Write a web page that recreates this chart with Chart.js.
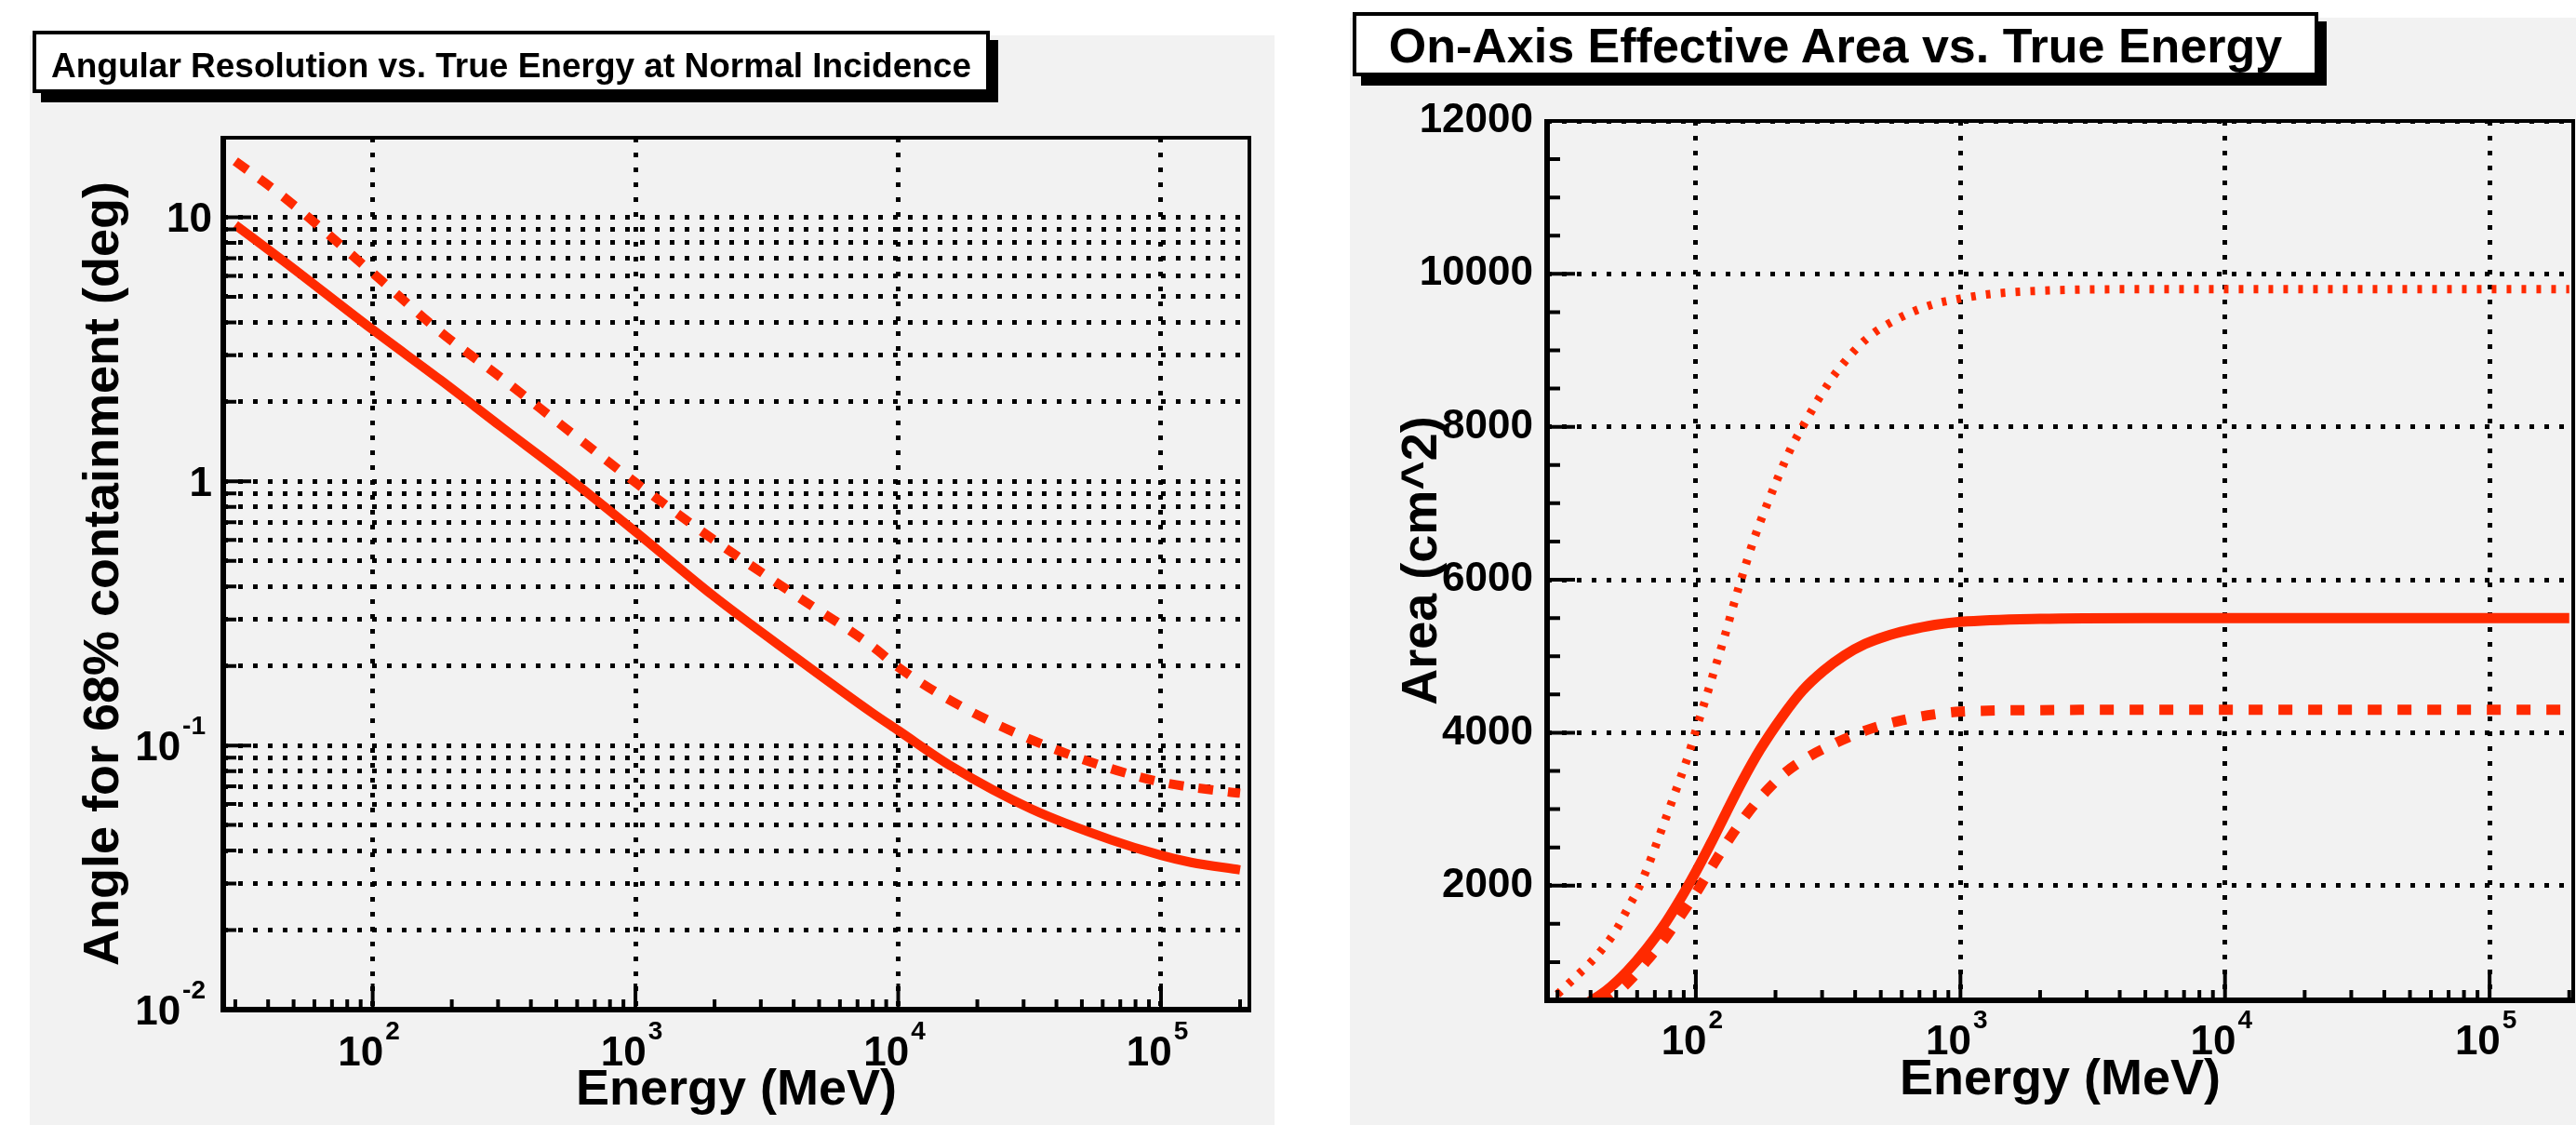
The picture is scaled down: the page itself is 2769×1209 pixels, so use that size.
<!DOCTYPE html>
<html lang="en">
<head>
  <meta charset="UTF-8">
  <title>Angular Resolution and Effective Area vs. True Energy</title>
  <style>
    html, body { margin: 0; padding: 0; background: #fff; overflow: hidden; }
    body { width: 2769px; height: 1209px; position: relative; font-family: "Liberation Sans", Arial, sans-serif; }
    .panel { position: absolute; background: #f2f2f2; }
    .panel canvas { display: block; }
    .titlebox {
      position: absolute; box-sizing: border-box; background: #fff;
      border: 4px solid #000; box-shadow: 9px 10px 0 #000;
      font-weight: bold; color: #000; text-align: center; white-space: nowrap;
    }
  </style>
</head>
<body>
  <div class="panel" style="left:32px;top:38px;width:1338px;height:1171px">
    <canvas id="angChart" width="1338" height="1171"></canvas>
  </div>
  <div class="panel" style="left:1451px;top:19px;width:1318px;height:1190px">
    <canvas id="areaChart" width="1318" height="1190"></canvas>
  </div>
  <div class="titlebox" style="left:35px;top:33px;width:1029px;height:67px;font-size:37px;line-height:59px;padding-top:4px">Angular Resolution vs. True Energy at Normal Incidence</div>
  <div class="titlebox" style="left:1454px;top:13px;width:1038px;height:69px;font-size:52px;line-height:61px;padding-top:2px">On-Axis Effective Area vs. True Energy</div>

  <script src="https://cdn.jsdelivr.net/npm/chart.js"></script>
  <script>
    // angular resolution (deg), solid and dashed curves
    const angSolidE = [30, 46, 100, 181, 311, 537, 1000, 1970, 3960, 7950, 10000, 16000, 32200, 64600, 100000, 130000, 200000];
    const angSolid  = [9.35, 6.8, 3.75, 2.42, 1.6, 1.06, 0.645, 0.37, 0.22, 0.133, 0.114, 0.0832, 0.0574, 0.0439, 0.0384, 0.0361, 0.0338];
    const angDashE  = [30, 46, 100, 181, 311, 537, 1000, 1970, 3960, 7950, 10000, 16000, 32200, 64600, 100000, 178000, 200000];
    const angDash   = [16.3, 11.9, 6.15, 3.68, 2.45, 1.6, 0.99, 0.604, 0.377, 0.238, 0.198, 0.147, 0.105, 0.0817, 0.0727, 0.0668, 0.066];

    // effective area (cm^2), solid, dashed and dotted curves
    const areaSolidE = [38, 46, 55, 65, 77, 90, 100, 115, 130, 150, 175, 211, 253, 304, 364, 436, 523, 627, 802, 1000, 2000, 5000, 10000, 100000, 200000];
    const areaSolid  = [440, 630, 880, 1170, 1520, 1900, 2180, 2580, 2950, 3370, 3780, 4200, 4550, 4810, 5010, 5160, 5262, 5335, 5410, 5450, 5490, 5500, 5500, 5500, 5500];
    const areaDashE  = [44, 50, 57, 65, 75, 87, 100, 115, 135, 158, 185, 220, 265, 340, 440, 580, 800, 1000, 2000, 5000, 10000, 100000, 200000];
    const areaDash   = [440, 590, 780, 1010, 1270, 1590, 1900, 2250, 2630, 2960, 3240, 3490, 3680, 3870, 4030, 4150, 4240, 4275, 4295, 4300, 4300, 4300, 4300];
    const areaDotE   = [30, 35, 40, 45, 50, 55, 61, 66, 73, 83, 94, 100, 110, 119, 127, 137, 147, 167, 183, 204, 227, 253, 293, 339, 442, 596, 780, 1000, 1300, 2000, 5000, 10000, 100000, 200000];
    const areaDot    = [580, 800, 996, 1199, 1420, 1687, 1980, 2256, 2663, 3191, 3720, 4030, 4491, 4880, 5200, 5600, 5960, 6560, 6925, 7330, 7696, 8000, 8380, 8710, 9152, 9434, 9596, 9677, 9737, 9780, 9800, 9800, 9800, 9800];

    // axes
    const energyTicks = [100, 1000, 10000, 100000];
    const energyTickLabels = ['10^2', '10^3', '10^4', '10^5'];
    const angleTicks = [0.01, 0.1, 1, 10];
    const angleTickLabels = ['10^-2', '10^-1', '1', '10'];
    const areaTicks = [2000, 4000, 6000, 8000, 10000, 12000];
    const areaTickLabels = ['2000', '4000', '6000', '8000', '10000', '12000'];

    const RED = '#ff2a00';
    const FONT = '"Liberation Sans", Arial, Helvetica, sans-serif';
    Chart.defaults.font.family = FONT;
    Chart.defaults.color = '#000';

    const pts = (xs, ys) => xs.map((x, i) => ({x: x, y: ys[i]}));

    function logMinors(lo, hi) {
      const out = [];
      for (let e = -3; e <= 6; e++) {
        for (let k = 2; k <= 9; k++) {
          const v = k * Math.pow(10, e);
          if (v > lo && v < hi) out.push(v);
        }
      }
      return out;
    }

    // draws "10" with a raised exponent, like ROOT's log axis labels
    function drawPow(ctx, text, x, base, align) {
      const parts = text.split('^');
      ctx.font = 'bold 44px ' + FONT;
      const wb = ctx.measureText(parts[0]).width;
      let we = 0;
      if (parts[1]) {
        ctx.font = 'bold 28px ' + FONT;
        we = ctx.measureText(parts[1]).width + 2;
      }
      const total = wb + we;
      let x0 = align === 'right' ? x - total : x - total / 2;
      ctx.textAlign = 'left';
      ctx.textBaseline = 'alphabetic';
      ctx.font = 'bold 44px ' + FONT;
      ctx.fillText(parts[0], x0, base);
      if (parts[1]) {
        ctx.font = 'bold 28px ' + FONT;
        ctx.fillText(parts[1], x0 + wb + 2, base - 28);
      }
    }

    // inward ticks, frame and power-of-ten labels
    const rootFrame = {
      id: 'rootFrame',
      afterDatasetsDraw(chart, args, o) {
        const {ctx, chartArea: a} = chart;
        const xs = chart.scales.x, ys = chart.scales.y;
        ctx.save();
        ctx.strokeStyle = '#000';
        ctx.lineCap = 'butt';
        ctx.lineWidth = 4;
        ctx.beginPath();
        o.xMajor.forEach(v => { const p = xs.getPixelForValue(v); ctx.moveTo(p, a.bottom); ctx.lineTo(p, a.bottom - 28); });
        o.xMinor.forEach(v => { const p = xs.getPixelForValue(v); ctx.moveTo(p, a.bottom); ctx.lineTo(p, a.bottom - 11); });
        o.yMajor.forEach(v => { const p = ys.getPixelForValue(v); ctx.moveTo(a.left, p); ctx.lineTo(a.left + 30, p); });
        o.yMinor.forEach(v => { const p = ys.getPixelForValue(v); ctx.moveTo(a.left, p); ctx.lineTo(a.left + 14, p); });
        ctx.stroke();

        ctx.lineWidth = 4;
        ctx.strokeRect(a.left, a.top, a.right - a.left, a.bottom - a.top);
        ctx.lineWidth = 6;
        ctx.beginPath();
        ctx.moveTo(a.left, a.top - 2);
        ctx.lineTo(a.left, a.bottom);
        ctx.lineTo(a.right + 2, a.bottom);
        ctx.stroke();

        ctx.fillStyle = '#000';
        o.xLabels.forEach((t, i) => {
          drawPow(ctx, t, xs.getPixelForValue(o.xLabelValues[i]) - 4, a.bottom + o.xLabelOffset, 'center');
        });
        if (o.yLabels) {
          o.yLabels.forEach((t, i) => {
            const p = ys.getPixelForValue(o.yLabelValues[i]);
            const gap = t.indexOf('^') >= 0 ? 19 : 12;
            drawPow(ctx, t, a.left - gap, p + 16, 'right');
          });
        }
        ctx.restore();
      }
    };

    function axisTitle(text, pad) {
      return { display: true, text: text, color: '#000', padding: pad,
               font: { family: FONT, size: 54, weight: 'bold' } };
    }

    const gridDots = { color: '#000', lineWidth: 5, drawTicks: false, borderDash: [5, 11] };
    const gridBorder = { display: false, dash: [5, 11] };

    // ---- left: angular resolution ----
    const angMinorX = logMinors(27, 217000);
    const angGridY = angleTicks.concat(logMinors(0.01, 20)).sort((p, q) => p - q);

    new Chart(document.getElementById('angChart').getContext('2d'), {
      type: 'line',
      data: {
        datasets: [
          { data: pts(angSolidE, angSolid), borderColor: RED, borderWidth: 10, pointRadius: 0, cubicInterpolationMode: 'monotone', fill: false },
          { data: pts(angDashE, angDash), borderColor: RED, borderWidth: 10, borderDash: [16, 16], borderCapStyle: 'butt', pointRadius: 0, cubicInterpolationMode: 'monotone', fill: false }
        ]
      },
      options: {
        responsive: false,
        devicePixelRatio: 1,
        animation: false,
        layout: { padding: { left: 0, top: 110, right: 27, bottom: 0 } },
        plugins: {
          legend: { display: false },
          tooltip: { enabled: false },
          rootFrame: {
            xMajor: energyTicks, xMinor: angMinorX,
            yMajor: angleTicks, yMinor: logMinors(0.01, 20),
            xLabels: energyTickLabels, xLabelValues: energyTicks, xLabelOffset: 60,
            yLabels: angleTickLabels, yLabelValues: angleTicks
          }
        },
        scales: {
          x: {
            type: 'logarithmic', min: 27, max: 217000,
            afterBuildTicks: s => { s.ticks = energyTicks.map(v => ({value: v})); },
            afterFit: s => { s.height = 124; },
            ticks: { display: false },
            grid: gridDots,
            border: gridBorder,
            title: axisTitle('Energy (MeV)', { top: 0, bottom: 4 })
          },
          y: {
            type: 'logarithmic', min: 0.01, max: 20,
            afterBuildTicks: s => { s.ticks = angGridY.map(v => ({value: v})); },
            afterFit: s => { s.width = 208; },
            ticks: { display: false },
            grid: gridDots,
            border: gridBorder,
            title: axisTitle('Angle for 68% containment (deg)', { top: 48, bottom: 0 })
          }
        }
      },
      plugins: [rootFrame]
    });

    // ---- right: effective area ----
    const areaMinorY = [];
    for (let v = 500; v < 12000; v += 500) if (v % 2000 !== 0) areaMinorY.push(v);

    new Chart(document.getElementById('areaChart').getContext('2d'), {
      type: 'line',
      data: {
        datasets: [
          { data: pts(areaDotE, areaDot), borderColor: RED, borderWidth: 9, borderDash: [5, 11], borderCapStyle: 'butt', pointRadius: 0, cubicInterpolationMode: 'monotone', fill: false },
          { data: pts(areaSolidE, areaSolid), borderColor: RED, borderWidth: 11, pointRadius: 0, cubicInterpolationMode: 'monotone', fill: false },
          { data: pts(areaDashE, areaDash), borderColor: RED, borderWidth: 11, borderDash: [15, 17], borderCapStyle: 'butt', pointRadius: 0, cubicInterpolationMode: 'monotone', fill: false }
        ]
      },
      options: {
        responsive: false,
        devicePixelRatio: 1,
        animation: false,
        layout: { padding: { left: 0, top: 111, right: 3, bottom: 0 } },
        plugins: {
          legend: { display: false },
          tooltip: { enabled: false },
          rootFrame: {
            xMajor: energyTicks, xMinor: logMinors(27.4, 207000),
            yMajor: areaTicks, yMinor: areaMinorY,
            xLabels: energyTickLabels, xLabelValues: energyTicks, xLabelOffset: 58
          }
        },
        scales: {
          x: {
            type: 'logarithmic', min: 27.4, max: 207000,
            afterBuildTicks: s => { s.ticks = energyTicks.map(v => ({value: v})); },
            afterFit: s => { s.height = 134; },
            ticks: { display: false },
            grid: gridDots,
            border: gridBorder,
            title: axisTitle('Energy (MeV)', { top: 0, bottom: 15 })
          },
          y: {
            type: 'linear', min: 500, max: 12000,
            afterBuildTicks: s => { s.ticks = areaTicks.map(v => ({value: v})); },
            afterFit: s => { s.width = 212; },
            ticks: {
              autoSkip: false, padding: 15, color: '#000',
              font: { family: FONT, size: 44, weight: 'bold' },
              callback: (v, i) => areaTickLabels[i]
            },
            grid: gridDots,
            border: gridBorder,
            title: axisTitle('Area (cm^2)', { top: 46, bottom: 0 })
          }
        }
      },
      plugins: [rootFrame]
    });
  </script>
</body>
</html>
